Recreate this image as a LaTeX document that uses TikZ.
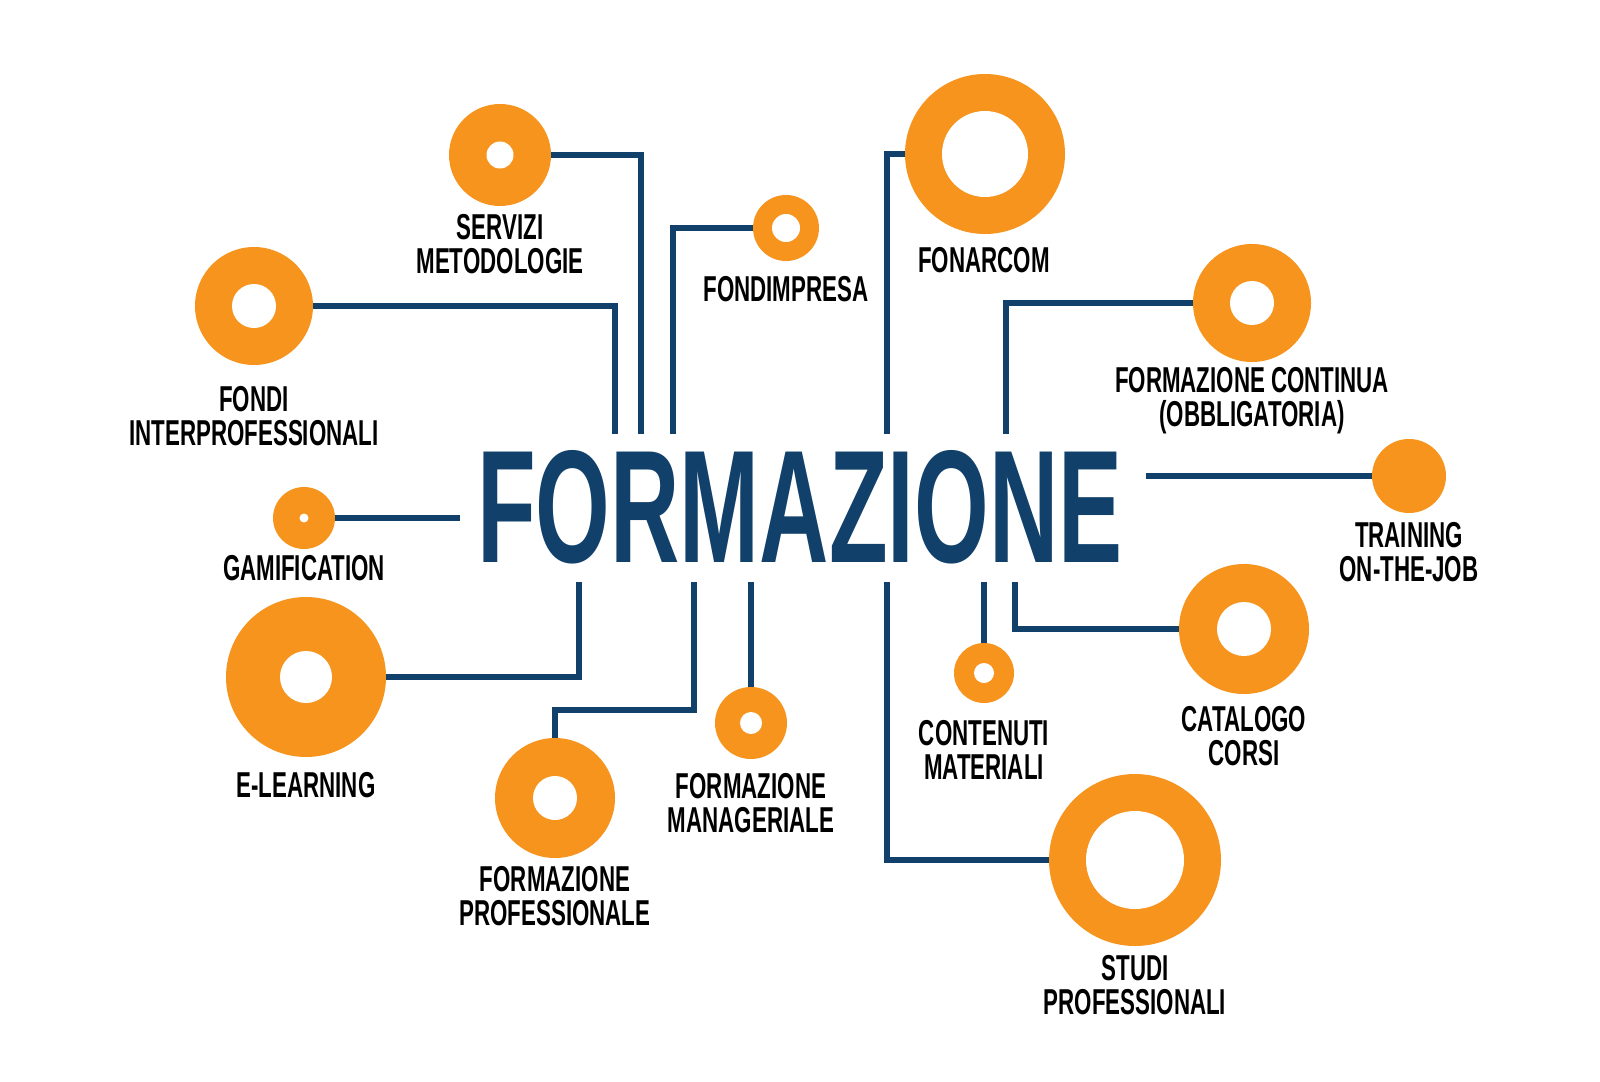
\documentclass[tikz,border=0pt]{standalone}
\usepackage{fontspec}
\usepackage{graphicx}
\newfontfamily\lblfont[FakeStretch=0.62]{Liberation Sans}
\newfontfamily\titlefont{Liberation Sans}
\definecolor{orng}{RGB}{247,148,30}
\definecolor{navy}{RGB}{17,64,106}
\begin{document}
\begin{tikzpicture}[x=1pt,y=-1pt,
  ring/.style={circle, fill=orng, draw=none, inner sep=0pt},
  hole/.style={circle, fill=white, draw=none, inner sep=0pt},
  conn/.style={draw=navy, line width=6.5pt, line join=miter},
  lbl/.style={font={\lblfont\bfseries\fontsize{36pt}{34pt}\selectfont}, align=center, inner sep=0pt, text=black}]
\fill[white] (0,0) rectangle (1600,1081);
\useasboundingbox (0,0) rectangle (1600,1081);

% title
\node[anchor=south west, inner sep=0pt, text=navy] (title) at (477,564)
  {\resizebox{645pt}{112pt}{\titlefont\bfseries FORMAZIONE}};

% rings
\node[ring, minimum size=102pt] (serv) at (500,155) {};
\node[ring, minimum size=118pt] (fondi) at (254,306) {};
\node[ring, minimum size=66pt] (fimp) at (786,228) {};
\node[ring, minimum size=160pt] (fon) at (985,154) {};
\node[ring, minimum size=118pt] (fcont) at (1252,303) {};
\node[ring, minimum size=74pt] (train) at (1409,476) {};
\node[ring, minimum size=62pt] (gam) at (304,518) {};
\node[ring, minimum size=160pt] (elearn) at (306,677) {};
\node[ring, minimum size=120pt] (fprof) at (555,798) {};
\node[ring, minimum size=72pt] (fman) at (751,723) {};
\node[ring, minimum size=60pt] (cont) at (984,673) {};
\node[ring, minimum size=130pt] (cat) at (1244,629) {};
\node[ring, minimum size=172pt] (studi) at (1135,860) {};

% holes
\node[hole, minimum size=27pt] (servh) at (serv) {};
\node[hole, minimum size=44pt] (fondih) at (fondi) {};
\node[hole, minimum size=28pt] (fimph) at (fimp) {};
\node[hole, minimum size=86pt] (fonh) at (fon) {};
\node[hole, minimum size=44pt] (fconth) at (fcont) {};
\node[hole, minimum size=9pt] (gamh) at (gam) {};
\node[hole, minimum size=52pt] (elearnh) at (elearn) {};
\node[hole, minimum size=44pt] (fprofh) at (fprof) {};
\node[hole, minimum size=22pt] (fmanh) at (fman) {};
\node[hole, minimum size=20pt] (conth) at (cont) {};
\node[hole, minimum size=54pt] (cath) at (cat) {};
\node[hole, minimum size=98pt] (studih) at (studi) {};

% connector ends
\coordinate (t1) at (641,434);
\coordinate (t2) at (615,434);
\coordinate (t3) at (673,434);
\coordinate (t4) at (887,434);
\coordinate (t5) at (1006,434);
\coordinate (t6) at (1146,476);
\coordinate (t7) at (460,518);
\coordinate (b1) at (579,582);
\coordinate (k1) at (694,710);
\coordinate (b2) at (694,582);
\coordinate (b3) at (751,582);
\coordinate (b4) at (984,582);
\coordinate (b5) at (1015,582);
\coordinate (b6) at (887,582);

% connectors
\draw[conn] (serv.east) -| (t1);
\draw[conn] (fondi.east) -| (t2);
\draw[conn] (fimp.west) -| (t3);
\draw[conn] (fon.west) -| (t4);
\draw[conn] (fcont.west) -| (t5);
\draw[conn] (train.west) -- (t6);
\draw[conn] (gam.east) -- (t7);
\draw[conn] (elearn.east) -| (b1);
\draw[conn] (fprof.north) |- (k1) -- (b2);
\draw[conn] (fman.north) -- (b3);
\draw[conn] (cont.north) -- (b4);
\draw[conn] (cat.west) -| (b5);
\draw[conn] (studi.west) -| (b6);

% labels
\node[lbl] (lserv) at (500,244) {SERVIZI\\METODOLOGIE};
\node[lbl] (lfondi) at (254,416) {FONDI\\INTERPROFESSIONALI};
\node[lbl] (lfimp) at (786,289) {FONDIMPRESA};
\node[lbl] (lfon) at (984,260) {FONARCOM};
\node[lbl] (lfcont) at (1252,401) {FORMAZIONE CONTINUA\\(OBBLIGATORIA)};
\node[lbl] (ltrain) at (1409,552) {TRAINING\\ON-THE-JOB};
\node[lbl] (lgam) at (304,568) {GAMIFICATION};
\node[lbl] (lelearn) at (306,785) {E-LEARNING};
\node[lbl] (lfprof) at (555,896) {FORMAZIONE\\PROFESSIONALE};
\node[lbl] (lfman) at (751,803) {FORMAZIONE\\MANAGERIALE};
\node[lbl] (lcont) at (984,750) {CONTENUTI\\MATERIALI};
\node[lbl] (lcat) at (1244,736) {CATALOGO\\CORSI};
\node[lbl] (lstudi) at (1135,985) {STUDI\\PROFESSIONALI};
\end{tikzpicture}
\end{document}
